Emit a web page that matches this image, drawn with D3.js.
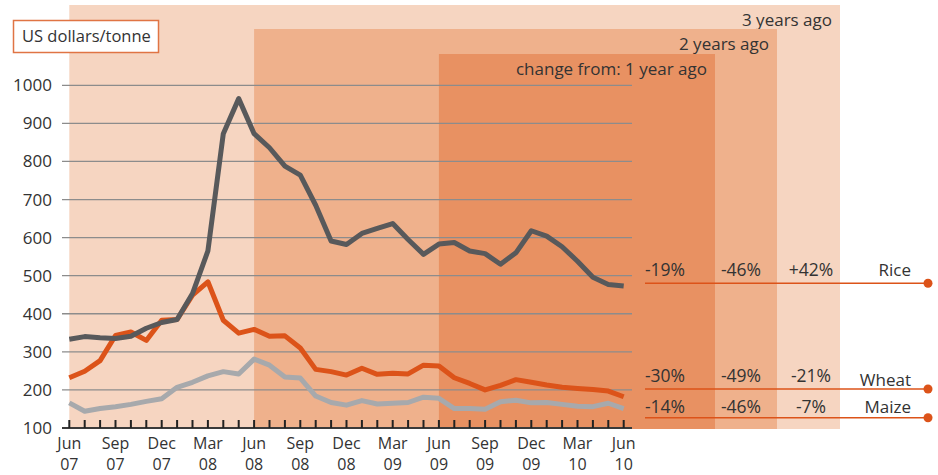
<!DOCTYPE html>
<html>
<head>
<meta charset="utf-8">
<script src="https://cdn.jsdelivr.net/npm/d3@7"></script>
<style>
  body { margin: 0; background: #fff; }
  svg text { font-family: "Open Sans", sans-serif; fill: #333; }
</style>
</head>
<body>
<div id="output"></div>
<script>
// monthly prices, Jun 07 .. Jun 10 (37 months)
const rice = [333, 340, 337, 335, 341, 362, 377, 385, 453, 565, 873, 965, 873, 836, 788, 764,
  685, 591, 582, 611, 624, 637, 595, 556, 583, 587, 565, 558, 530, 560, 618, 604, 576, 538, 496, 477, 473];
const wheat = [232, 249, 277, 343, 352, 330, 383, 385, 449, 484, 383, 349, 359, 341, 342, 310,
  254, 248, 239, 257, 241, 244, 242, 265, 263, 232, 217, 200, 212, 227, 220, 213, 207, 204, 201, 197, 182];
const maize = [166, 144, 151, 156, 162, 170, 177, 207, 220, 237, 248, 242, 281, 265, 234, 231,
  184, 167, 160, 172, 163, 165, 167, 181, 178, 151, 151, 149, 169, 173, 166, 167, 162, 157, 156, 165, 151];

const yTicks = [100, 200, 300, 400, 500, 600, 700, 800, 900, 1000];
const xTickIdx = [0, 3, 6, 9, 12, 15, 18, 21, 24, 27, 30, 33, 36];
const xTickMonth = ["Jun", "Sep", "Dec", "Mar", "Jun", "Sep", "Dec", "Mar", "Jun", "Sep", "Dec", "Mar", "Jun"];
const xTickYear = ["07", "07", "07", "08", "08", "08", "08", "09", "09", "09", "09", "10", "10"];

const commodities = ["Rice", "Wheat", "Maize"];
const change1y = ["-19%", "-30%", "-14%"];
const change2y = ["-46%", "-49%", "-46%"];
const change3y = ["+42%", "-21%", "-7%"];

const width = 938, height = 475;
const svg = d3.select("#output").append("svg")
  .attr("width", width)
  .attr("height", height);

const x = d3.scaleLinear().domain([0, 36]).range([69.3, 623.7]);
const y = d3.scaleLinear().domain([100, 1000]).range([428, 85.3]);

// shaded "change from" panels
const panels = [
  { start: 0, right: 840, top: 5, fill: "#f6d5c1", label: "3 years ago" },
  { start: 12, right: 777, top: 29, fill: "#efb18c", label: "2 years ago" },
  { start: 24, right: 715, top: 54, fill: "#e89162", label: "change from: 1 year ago" }
];
panels.forEach(p => {
  svg.append("rect")
    .attr("x", x(p.start))
    .attr("y", p.top)
    .attr("width", p.right - x(p.start))
    .attr("height", 429 - p.top)
    .attr("fill", p.fill);
  svg.append("text")
    .attr("x", p.right - 8)
    .attr("y", p.top + 21)
    .attr("text-anchor", "end")
    .style("font-size", "17px")
    .text(p.label);
});

// gridlines
svg.selectAll(".grid")
  .data(yTicks.slice(1))
  .enter().append("line")
  .attr("x1", 62).attr("x2", 632)
  .attr("y1", d => y(d)).attr("y2", d => y(d))
  .attr("stroke", "#8c8c8c")
  .attr("stroke-width", 1.3);

// y labels
svg.selectAll(".ylab")
  .data(yTicks)
  .enter().append("text")
  .attr("x", 52)
  .attr("y", d => y(d) + 6)
  .attr("text-anchor", "end")
  .style("font-size", "17px")
  .text(d => d);

// lines
const line = d3.line().x((d, i) => x(i)).y(d => y(d));
[[maize, "#a7a9ac"], [wheat, "#dc5319"], [rice, "#58595b"]].forEach(([s, c]) => {
  svg.append("path")
    .datum(s)
    .attr("d", line)
    .attr("fill", "none")
    .attr("stroke", c)
    .attr("stroke-width", 5)
    .attr("stroke-linejoin", "round");
});

// x axis
svg.append("line")
  .attr("x1", 62).attr("x2", 632)
  .attr("y1", 428).attr("y2", 428)
  .attr("stroke", "#3a3a3a")
  .attr("stroke-width", 2);
svg.selectAll(".tick")
  .data(d3.range(37))
  .enter().append("line")
  .attr("x1", d => x(d)).attr("x2", d => x(d))
  .attr("y1", 420).attr("y2", 428)
  .attr("stroke", "#222")
  .attr("stroke-width", 2);
xTickIdx.forEach((d, i) => {
  const t = svg.append("text")
    .attr("x", x(d))
    .attr("text-anchor", "middle")
    .style("font-size", "16px");
  t.append("tspan").attr("x", x(d)).attr("y", 449).text(xTickMonth[i]);
  t.append("tspan").attr("x", x(d)).attr("y", 470).text(xTickYear[i]);
});

// unit box
svg.append("rect")
  .attr("x", 13.5).attr("y", 20.5)
  .attr("width", 145).attr("height", 32)
  .attr("fill", "#fff")
  .attr("stroke", "#e07444")
  .attr("stroke-width", 1.5);
svg.append("text")
  .attr("x", 22).attr("y", 42)
  .style("font-size", "16.5px")
  .text("US dollars/tonne");

// legend rows
const rowLine = [283.3, 389, 417.7];
const rowText = [276, 382, 413];
const labelY = [276, 386, 413];
commodities.forEach((c, i) => {
  svg.append("line")
    .attr("x1", 645).attr("x2", 928)
    .attr("y1", rowLine[i]).attr("y2", rowLine[i])
    .attr("stroke", "#dc5319")
    .attr("stroke-width", 1.5);
  svg.append("circle")
    .attr("cx", 928).attr("cy", rowLine[i])
    .attr("r", 4.5)
    .attr("fill", "#dc5319");
  [[change1y, 665], [change2y, 741], [change3y, 811]].forEach(([arr, cx]) => {
    svg.append("text")
      .attr("x", cx).attr("y", rowText[i])
      .attr("text-anchor", "middle")
      .style("font-size", "17.5px")
      .text(arr[i]);
  });
  svg.append("text")
    .attr("x", 911).attr("y", labelY[i])
    .attr("text-anchor", "end")
    .style("font-size", "17px")
    .text(c);
});
</script>
</body>
</html>
